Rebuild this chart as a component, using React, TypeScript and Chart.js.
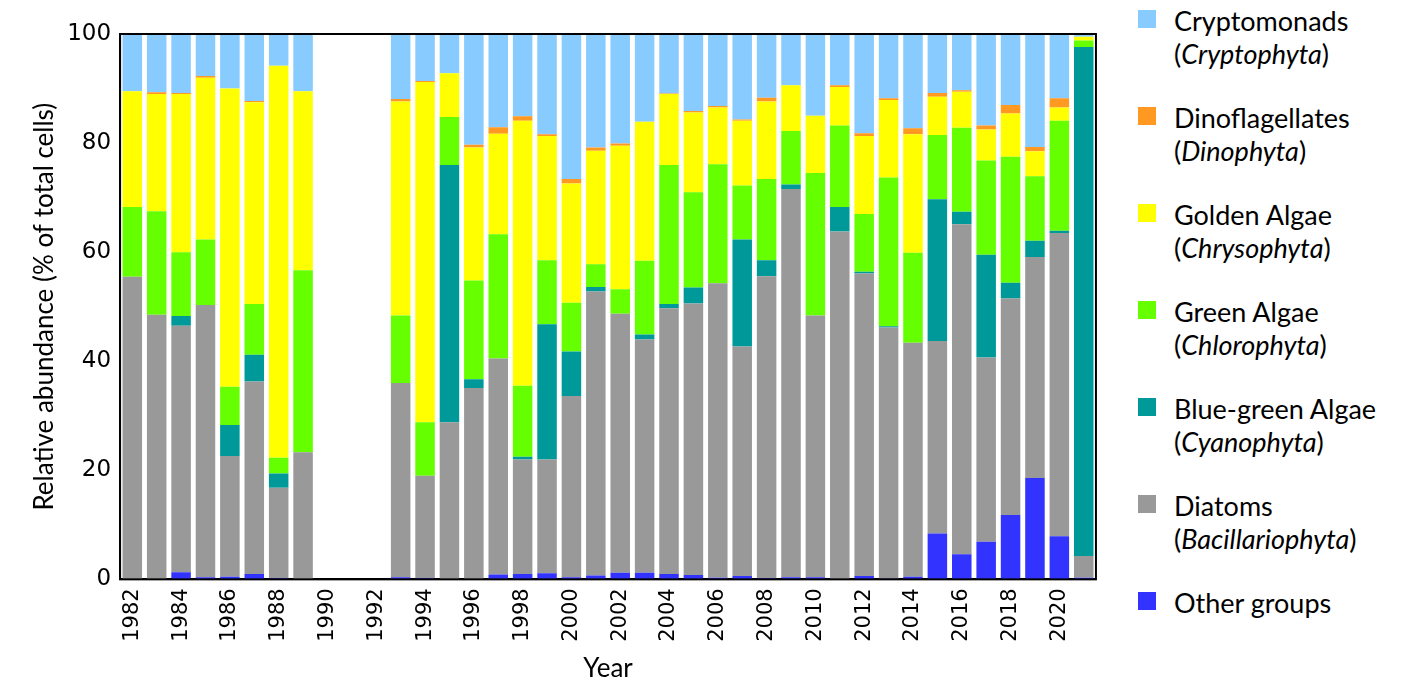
import { useEffect, useRef } from "react"
import { Chart, registerables } from "chart.js"

Chart.register(...registerables)

const years = Array.from({ length: 40 }, (_, i) => String(1982 + i))

// null = no sampling (1990-1992)
const other = [0, 0, 1.3, 0.4, 0.5, 1.0, 0.2, 0, null, null, null, 0.4, 0.2, 0, 0, 0.9, 1.0, 1.1, 0.4, 0.7, 1.2, 1.2, 1.0, 0.8, 0.3, 0.6, 0.2, 0.4, 0.4, 0, 0.6, 0.1, 0.5, 8.4, 4.6, 6.9, 11.8, 18.6, 7.9, 0.3]
const diatoms = [55.5, 48.5, 45.2, 49.9, 22.1, 35.3, 16.6, 23.3, null, null, null, 35.6, 18.8, 28.8, 35.1, 39.6, 21, 20.9, 33.2, 52.1, 47.5, 42.8, 48.7, 49.8, 54, 42.1, 55.4, 71.2, 48, 63.8, 55.5, 46.1, 42.9, 35.3, 60.5, 33.8, 39.7, 40.5, 55.6, 4.0]
const blueGreen = [0, 0, 1.8, 0, 5.7, 4.9, 2.6, 0, null, null, null, 0, 0, 47.2, 1.6, 0, 0.5, 24.8, 8.2, 0.8, 0, 0.9, 0.8, 2.9, 0, 19.6, 2.9, 0.8, 0, 4.5, 0.3, 0.2, 0, 26, 2.3, 18.8, 2.9, 3, 0.4, 93.3]
const green = [12.8, 19, 11.7, 12, 7, 9.3, 2.9, 33.4, null, null, null, 12.4, 9.8, 8.8, 18.1, 22.8, 13, 11.7, 8.9, 4.2, 4.5, 13.5, 25.5, 17.5, 21.8, 9.9, 14.9, 9.8, 26.1, 14.9, 10.6, 27.3, 16.5, 11.8, 15.4, 17.3, 23.1, 11.8, 20.2, 1.2]
const golden = [21.2, 21.5, 29, 29.7, 54.7, 37, 71.9, 32.8, null, null, null, 39.2, 62.4, 8, 24.4, 18.4, 48.6, 22.8, 21.9, 20.8, 26.3, 25.5, 13, 14.6, 10.4, 11.9, 14.2, 8.4, 10.5, 7.1, 14.3, 14.2, 21.7, 7, 6.6, 5.7, 7.9, 4.6, 2.4, 0.7]
const dino = [0, 0.3, 0.2, 0.3, 0, 0.2, 0, 0, null, null, null, 0.5, 0.2, 0, 0.5, 1.2, 0.8, 0.3, 0.8, 0.6, 0.4, 0, 0.1, 0.3, 0.3, 0.2, 0.7, 0, 0, 0.3, 0.5, 0.3, 1.1, 0.7, 0.3, 0.7, 1.6, 0.8, 1.7, 0]
const crypto = [10.5, 10.7, 10.8, 7.7, 10, 12.3, 5.8, 10.5, null, null, null, 11.9, 8.6, 7.2, 20.3, 17.1, 15.1, 18.4, 26.6, 20.8, 20.1, 16.1, 10.9, 14.1, 13.2, 15.7, 11.5, 9.4, 15, 9.4, 18.2, 11.8, 17.3, 10.8, 10.3, 16.8, 13.1, 20.7, 12.2, 0.5]

const series = [
  { label: "Other groups", data: other, color: "#3333ff" },
  { label: "Diatoms", data: diatoms, color: "#999999" },
  { label: "Blue-green Algae", data: blueGreen, color: "#009999" },
  { label: "Green Algae", data: green, color: "#66ff00" },
  { label: "Golden Algae", data: golden, color: "#ffff00" },
  { label: "Dinoflagellates", data: dino, color: "#ff9922" },
  { label: "Cryptomonads", data: crypto, color: "#88ccff" },
]

const legendItems = [
  { name: "Cryptomonads", latin: "Cryptophyta", color: "#88ccff" },
  { name: "Dinoflagellates", latin: "Dinophyta", color: "#ff9922" },
  { name: "Golden Algae", latin: "Chrysophyta", color: "#ffff00" },
  { name: "Green Algae", latin: "Chlorophyta", color: "#66ff00" },
  { name: "Blue-green Algae", latin: "Cyanophyta", color: "#009999" },
  { name: "Diatoms", latin: "Bacillariophyta", color: "#999999" },
  { name: "Other groups", latin: "", color: "#3333ff" },
]

const titleFont = { family: "Lato, 'Open Sans', sans-serif", size: 26 }

export default function App() {
  const chartRef = useRef<HTMLCanvasElement>(null)

  useEffect(() => {
    if (!chartRef.current) return
    const frame = {
      id: "frame",
      afterDraw(chart: any) {
        const { ctx, chartArea: a } = chart
        ctx.save()
        ctx.strokeStyle = "#000"
        ctx.lineWidth = 2
        ctx.strokeRect(a.left, a.top, a.right - a.left, a.bottom - a.top)
        ctx.restore()
      },
    }
    const chart = new Chart(chartRef.current, {
      type: "bar",
      data: {
        labels: years,
        datasets: series.map((s) => ({
          label: s.label,
          data: s.data,
          backgroundColor: s.color,
          borderWidth: 0,
          barPercentage: 0.8,
          categoryPercentage: 1,
        })),
      },
      options: {
        animation: false,
        responsive: false,
        layout: { padding: { top: 34, right: 4, left: 25, bottom: 8 } },
        plugins: { legend: { display: false }, tooltip: { enabled: false } },
        scales: {
          x: {
            stacked: true,
            grid: { display: false, tickLength: 6, tickColor: "#000" } as any,
            border: { color: "#000", width: 2 },
            ticks: {
              color: "#000",
              font: { family: "'DejaVu Sans', sans-serif", size: 21 },
              autoSkip: false,
              maxRotation: 90,
              minRotation: 90,
              callback: (_v: any, i: number) => ((1982 + i) % 2 === 0 ? String(1982 + i) : ""),
            },
            title: { display: true, text: "Year", color: "#000", font: titleFont, padding: { top: 8, bottom: 0 } },
          },
          y: {
            stacked: true,
            min: 0,
            max: 100,
            grid: { display: false, tickLength: 6, tickColor: "#000" } as any,
            border: { color: "#000", width: 2 },
            ticks: { stepSize: 20, color: "#000", font: { family: "'DejaVu Sans', sans-serif", size: 23 } },
            title: {
              display: true,
              text: "Relative abundance (% of total cells)",
              color: "#000",
              font: titleFont,
            },
          },
        },
      },
      plugins: [frame],
    })
    return () => chart.destroy()
  }, [])

  return (
    <div style={{ position: "fixed", left: 0, top: 0, width: 1410, height: 692, background: "#fff" }}>
      <canvas ref={chartRef} width={1112} height={692} style={{ position: "absolute", left: 0, top: 0 }} />
      <div style={{ position: "absolute", left: 1134, top: 4, fontFamily: "Lato, 'Open Sans', sans-serif", fontSize: 27, color: "#000" }}>
        {legendItems.map((it) => (
          <div key={it.name} style={{ position: "relative", height: 97, paddingLeft: 40, lineHeight: "33px" }}>
            <span style={{ position: "absolute", left: 4, top: 6, width: 18, height: 18, background: it.color }} />
            <div>{it.name}</div>
            {it.latin && (
              <div>
                (<i>{it.latin}</i>)
              </div>
            )}
          </div>
        ))}
      </div>
    </div>
  )
}
